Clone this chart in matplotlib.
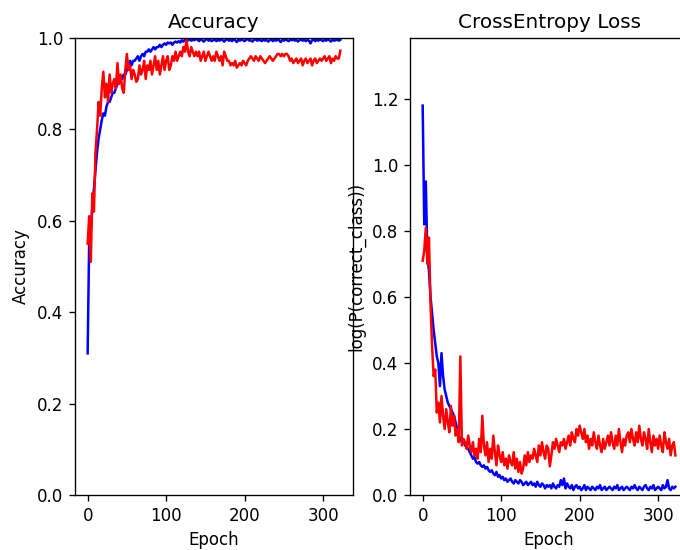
import numpy as np
import matplotlib
matplotlib.use("Agg")
import matplotlib.pyplot as plt

# every second epoch, 0..322
epochs = np.arange(0, 323, 2)

train_acc = [
    0.31, 0.56, 0.58, 0.63, 0.67, 0.71, 0.75, 0.78, 0.80, 0.82,
    0.835, 0.83, 0.85, 0.86, 0.86, 0.87, 0.88, 0.88, 0.89, 0.90,
    0.90, 0.91, 0.91, 0.92, 0.92, 0.93, 0.94, 0.95, 0.94, 0.95,
    0.95, 0.955, 0.96, 0.95, 0.96, 0.965, 0.96, 0.97, 0.97, 0.975,
    0.97, 0.975, 0.98, 0.975, 0.98, 0.98, 0.985, 0.98, 0.985, 0.988,
    0.985, 0.99, 0.988, 0.99, 0.985, 0.99, 0.992, 0.99, 0.993, 0.99,
    0.995, 0.992, 0.996, 0.993, 0.995, 0.997, 0.994, 0.996, 0.995, 0.998,
    0.996, 0.993, 0.997, 0.995, 0.992, 0.996, 0.998, 0.994, 0.996, 0.993,
    0.995, 0.997, 0.993, 0.996, 0.994, 0.998, 0.995, 0.992, 0.996, 0.997,
    0.994, 0.996, 0.993, 0.997, 0.995, 0.991, 0.996, 0.994, 0.997, 0.995,
    0.993, 0.996, 0.998, 0.994, 0.995, 0.992, 0.996, 0.997, 0.994, 0.996,
    0.995, 0.993, 0.997, 0.994, 0.996, 0.992, 0.995, 0.997, 0.993, 0.996,
    0.994, 0.997, 0.995, 0.991, 0.996, 0.994, 0.997, 0.995, 0.993, 0.996,
    0.995, 0.997, 0.994, 0.996, 0.992, 0.995, 0.997, 0.994, 0.996, 0.993,
    0.996, 0.994, 0.988, 0.995, 0.997, 0.993, 0.996, 0.994, 0.997, 0.995,
    0.993, 0.996, 0.994, 0.997, 0.995, 0.992, 0.996, 0.994, 0.995, 0.997,
    0.994, 0.996,
]

val_acc = [
    0.55, 0.61, 0.51, 0.66, 0.62, 0.75, 0.80, 0.86, 0.83, 0.89,
    0.926, 0.87, 0.90, 0.86, 0.92, 0.88, 0.90, 0.91, 0.89, 0.945,
    0.90, 0.92, 0.89, 0.88, 0.93, 0.965, 0.93, 0.94, 0.91, 0.93,
    0.92, 0.904, 0.91, 0.94, 0.92, 0.93, 0.95, 0.91, 0.94, 0.93,
    0.95, 0.92, 0.94, 0.96, 0.93, 0.95, 0.92, 0.94, 0.96, 0.93,
    0.95, 0.96, 0.93, 0.94, 0.96, 0.95, 0.97, 0.95, 0.96, 0.97,
    0.96, 0.98, 0.97, 0.995, 0.97, 0.96, 0.98, 0.97, 0.96, 0.97,
    0.96, 0.97, 0.95, 0.96, 0.97, 0.95, 0.96, 0.97, 0.96, 0.95,
    0.96, 0.95, 0.97, 0.96, 0.95, 0.96, 0.94, 0.97, 0.96, 0.95,
    0.95, 0.94, 0.945, 0.94, 0.95, 0.935, 0.94, 0.945, 0.94, 0.95,
    0.945, 0.94, 0.95, 0.955, 0.96, 0.955, 0.95, 0.96, 0.955, 0.95,
    0.96, 0.955, 0.95, 0.945, 0.95, 0.955, 0.96, 0.955, 0.95, 0.955,
    0.96, 0.965, 0.965, 0.96, 0.965, 0.96, 0.965, 0.965, 0.96, 0.95,
    0.955, 0.945, 0.95, 0.955, 0.945, 0.95, 0.955, 0.94, 0.95, 0.955,
    0.945, 0.95, 0.955, 0.94, 0.95, 0.955, 0.945, 0.95, 0.955, 0.95,
    0.955, 0.96, 0.95, 0.955, 0.96, 0.945, 0.955, 0.95, 0.96, 0.955,
    0.955, 0.972,
]

train_loss = [
    1.18, 0.82, 0.95, 0.72, 0.68, 0.60, 0.55, 0.50, 0.46, 0.42,
    0.40, 0.33, 0.43, 0.36, 0.32, 0.30, 0.28, 0.27, 0.26, 0.25,
    0.24, 0.22, 0.20, 0.18, 0.17, 0.16, 0.165, 0.15, 0.145, 0.14,
    0.13, 0.12, 0.11, 0.115, 0.10, 0.095, 0.10, 0.09, 0.085, 0.09,
    0.08, 0.085, 0.075, 0.07, 0.075, 0.065, 0.06, 0.07, 0.055, 0.06,
    0.05, 0.055, 0.045, 0.05, 0.04, 0.045, 0.05, 0.04, 0.035, 0.045,
    0.04, 0.035, 0.045, 0.04, 0.03, 0.035, 0.04, 0.03, 0.035, 0.04,
    0.03, 0.035, 0.025, 0.04, 0.03, 0.025, 0.035, 0.03, 0.02, 0.03,
    0.025, 0.03, 0.02, 0.035, 0.025, 0.02, 0.03, 0.025, 0.045, 0.03,
    0.05, 0.02, 0.035, 0.025, 0.02, 0.03, 0.015, 0.025, 0.03, 0.02,
    0.025, 0.015, 0.02, 0.03, 0.015, 0.025, 0.02, 0.015, 0.025, 0.02,
    0.015, 0.025, 0.02, 0.03, 0.015, 0.02, 0.025, 0.015, 0.02, 0.025,
    0.02, 0.015, 0.025, 0.02, 0.03, 0.015, 0.02, 0.025, 0.015, 0.02,
    0.025, 0.02, 0.015, 0.025, 0.02, 0.03, 0.02, 0.015, 0.025, 0.02,
    0.015, 0.025, 0.03, 0.02, 0.015, 0.025, 0.02, 0.03, 0.015, 0.02,
    0.025, 0.02, 0.015, 0.03, 0.02, 0.025, 0.045, 0.02, 0.015, 0.025,
    0.02, 0.025,
]

val_loss = [
    0.71, 0.74, 0.81, 0.70, 0.78, 0.58, 0.45, 0.36, 0.38, 0.25,
    0.28, 0.22, 0.30, 0.24, 0.20, 0.26, 0.22, 0.19, 0.27, 0.21,
    0.24, 0.18, 0.20, 0.16, 0.42, 0.15, 0.17, 0.16, 0.14, 0.18,
    0.15, 0.13, 0.16, 0.12, 0.14, 0.11, 0.17, 0.13, 0.24, 0.15,
    0.12, 0.16, 0.10, 0.14, 0.11, 0.18, 0.13, 0.09, 0.15, 0.12,
    0.10, 0.13, 0.09, 0.11, 0.08, 0.12, 0.10, 0.09, 0.13, 0.08,
    0.11, 0.07, 0.10, 0.065, 0.08, 0.12, 0.09, 0.13, 0.10, 0.12,
    0.11, 0.14, 0.12, 0.10, 0.15, 0.12, 0.16, 0.13, 0.11, 0.15,
    0.14, 0.087, 0.12, 0.16, 0.14, 0.17, 0.15, 0.13, 0.16, 0.15,
    0.17, 0.14, 0.16, 0.18, 0.15, 0.19, 0.17, 0.16, 0.20, 0.18,
    0.21, 0.19, 0.17, 0.20, 0.16, 0.18, 0.14, 0.17, 0.15, 0.19,
    0.16, 0.14, 0.18, 0.15, 0.13, 0.17, 0.14, 0.16, 0.18, 0.15,
    0.19, 0.16, 0.14, 0.18, 0.15, 0.20, 0.16, 0.13, 0.17, 0.15,
    0.18, 0.19, 0.16, 0.20, 0.17, 0.15, 0.19, 0.16, 0.21, 0.17,
    0.15, 0.19, 0.17, 0.14, 0.20, 0.16, 0.13, 0.18, 0.15, 0.17,
    0.14, 0.18, 0.15, 0.13, 0.19, 0.16, 0.14, 0.17, 0.12, 0.15,
    0.16, 0.12,
]

# the reference was drawn a bit larger than 100 dpi, so scale text and strokes up
s = 1.2
plt.rcParams.update({
    "font.size": 10 * s,
    "lines.linewidth": 1.5 * s,
    "axes.linewidth": 0.8 * s,
    "axes.titlepad": 6 * s,
    "axes.labelpad": 4 * s,
    "xtick.major.size": 3.5 * s,
    "ytick.major.size": 3.5 * s,
    "xtick.major.width": 0.8 * s,
    "ytick.major.width": 0.8 * s,
    "xtick.major.pad": 3.5 * s,
    "ytick.major.pad": 3.5 * s,
})

fig = plt.figure(figsize=(6.8, 5.5), dpi=100)
ax1 = fig.add_axes([0.1103, 0.1, 0.4088, 0.831])
ax2 = fig.add_axes([0.603, 0.1, 0.4088, 0.831])

ax1.plot(epochs, train_acc, color="b")
ax1.plot(epochs, val_acc, color="r")
ax1.set_ylim(0, 1)
ax1.set_title("Accuracy")
ax1.set_xlabel("Epoch")
ax1.set_ylabel("Accuracy")

ax2.plot(epochs, train_loss, color="b")
ax2.plot(epochs, val_loss, color="r")
ax2.set_ylim(0, 1.385)
ax2.set_yticks([0.0, 0.2, 0.4, 0.6, 0.8, 1.0, 1.2])
ax2.set_title("CrossEntropy Loss")
ax2.set_xlabel("Epoch")
ax2.set_ylabel("log(P(correct_class))")

fig.savefig("out.png", dpi=100)
